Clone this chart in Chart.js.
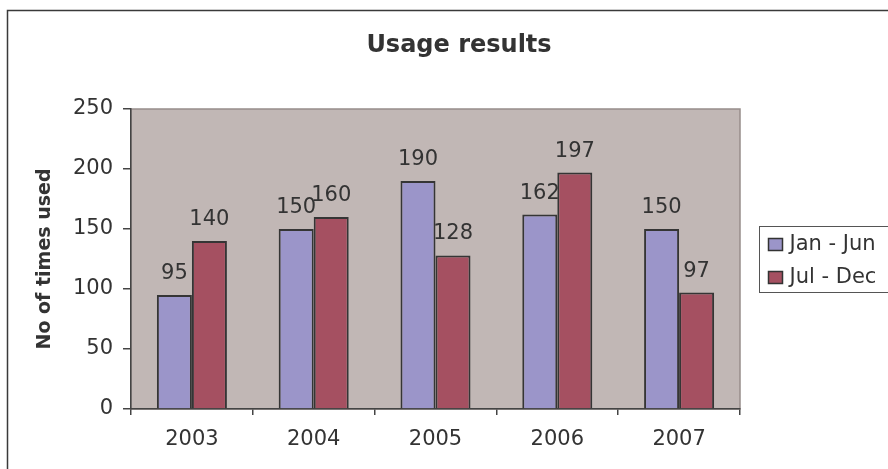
<!DOCTYPE html>
<html>
<head>
<meta charset="utf-8">
<title>Usage results</title>
<script src="https://cdn.jsdelivr.net/npm/chart.js@4"></script>
<style>
  html, body { margin: 0; padding: 0; background: #fff; overflow: hidden; }
  #wrap { width: 888px; height: 469px; }
</style>
</head>
<body>
<div id="wrap"><canvas id="usage" width="888" height="469"></canvas></div>
<script>
// Usage counts per half-year
const categories = ['2003', '2004', '2005', '2006', '2007'];
const seriesNames = ['Jan - Jun', 'Jul - Dec'];
const janJun = [95, 150, 190, 162, 150];
const julDec = [140, 160, 128, 197, 97];
const yMin = 0;
const yMax = 250;
const yStep = 50;

const FONT = "'DejaVu Sans', sans-serif";
const TEXT = '#333333';
const AXIS = '#444444';
const PLOT_BG = '#C1B7B5';
const COLORS = ['#9B95C9', '#A55061'];

// White page, outer frame (left and top edges), shaded plot area with its thin grey border
const framePlugin = {
  id: 'frame',
  beforeDraw(chart) {
    const { ctx, chartArea: a } = chart;
    ctx.save();
    ctx.fillStyle = '#ffffff';
    ctx.fillRect(0, 0, chart.width, chart.height);
    ctx.strokeStyle = '#3a3a3a';
    ctx.lineWidth = 1.5;
    ctx.beginPath();
    ctx.moveTo(7.5, chart.height + 5);
    ctx.lineTo(7.5, 10.5);
    ctx.lineTo(chart.width + 5, 10.5);
    ctx.stroke();
    ctx.fillStyle = PLOT_BG;
    ctx.fillRect(a.left, a.top, a.right - a.left, a.bottom - a.top);
    ctx.strokeStyle = '#978d8b';
    ctx.lineWidth = 1.5;
    ctx.strokeRect(a.left, a.top, a.right - a.left, a.bottom - a.top);
    ctx.restore();
  }
};

// Value printed above every bar
const valueLabels = {
  id: 'valueLabels',
  afterDatasetsDraw(chart) {
    const { ctx } = chart;
    ctx.save();
    ctx.font = '21px ' + FONT;
    ctx.fillStyle = TEXT;
    ctx.textAlign = 'center';
    ctx.textBaseline = 'alphabetic';
    chart.data.datasets.forEach((ds, i) => {
      const meta = chart.getDatasetMeta(i);
      meta.data.forEach((bar, j) => {
        ctx.fillText(String(ds.data[j]), bar.x, bar.y - 16);
      });
    });
    ctx.restore();
  }
};

// Boxed legend, laid out as a fixed-width box on the right of the plot
const boxLegend = {
  id: 'boxLegend',
  beforeInit(chart) {
    const box = {
      position: 'right',
      weight: 1000,
      fullSize: false,
      options: {},
      width: 0,
      height: 0,
      isHorizontal() { return false; },
      update(maxWidth, maxHeight) {
        this.width = 148;
        this.height = maxHeight;
      },
      draw() {
        const ctx = chart.ctx;
        const a = chart.chartArea;
        const left = this.left + 19.5;
        const top = Math.round((a.top + a.bottom) / 2 - 33) + 0.5;
        const rowGap = 33;
        ctx.save();
        ctx.strokeStyle = '#555555';
        ctx.lineWidth = 1;
        ctx.strokeRect(left, top, 160, 66);
        ctx.font = '21px ' + FONT;
        ctx.textAlign = 'left';
        ctx.textBaseline = 'alphabetic';
        chart.data.datasets.forEach((ds, i) => {
          const y = top + 12 + i * rowGap;
          ctx.fillStyle = ds.backgroundColor;
          ctx.fillRect(left + 9, y, 14, 12);
          ctx.strokeStyle = '#333333';
          ctx.lineWidth = 1.5;
          ctx.strokeRect(left + 9, y, 14, 12);
          ctx.fillStyle = TEXT;
          ctx.fillText(ds.label, left + 30, y + 11);
        });
        ctx.restore();
      }
    };
    Chart.layouts.addBox(chart, box);
  }
};

new Chart(document.getElementById('usage'), {
  type: 'bar',
  data: {
    labels: categories,
    datasets: [
      { label: seriesNames[0], data: janJun, backgroundColor: COLORS[0] },
      { label: seriesNames[1], data: julDec, backgroundColor: COLORS[1] }
    ]
  },
  options: {
    responsive: false,
    animation: false,
    devicePixelRatio: 1,
    layout: { padding: { left: 30, right: 0, top: 0, bottom: 0 } },
    datasets: {
      bar: {
        borderColor: '#353535',
        borderWidth: 2,
        barPercentage: 1,
        categoryPercentage: 0.575
      }
    },
    plugins: {
      legend: { display: false },
      tooltip: { enabled: false },
      title: {
        display: true,
        text: 'Usage results',
        color: TEXT,
        font: { family: FONT, size: 24, weight: 'bold', lineHeight: 1.2 },
        padding: { top: 31.5, bottom: 48.7 }
      }
    },
    scales: {
      x: {
        grid: {
          offset: true,
          drawOnChartArea: false,
          drawTicks: true,
          tickLength: 6,
          color: AXIS,
          lineWidth: 1.5
        },
        border: { display: true, color: AXIS, width: 1.5 },
        ticks: {
          color: TEXT,
          font: { family: FONT, size: 21 },
          padding: 12,
          maxRotation: 0
        },
        afterFit(scale) { scale.height = 60; }
      },
      y: {
        min: yMin,
        max: yMax,
        grid: {
          drawOnChartArea: false,
          drawTicks: true,
          tickLength: 8,
          color: AXIS,
          lineWidth: 1.5
        },
        border: { display: true, color: AXIS, width: 1.5 },
        ticks: {
          stepSize: yStep,
          color: TEXT,
          font: { family: FONT, size: 21 },
          padding: 10
        },
        title: {
          display: true,
          text: 'No of times used',
          color: TEXT,
          font: { family: FONT, size: 19, weight: 'bold', lineHeight: 1.2 },
          padding: { top: 4, bottom: 0 }
        },
        afterFit(scale) { scale.width = 101; }
      }
    }
  },
  plugins: [framePlugin, valueLabels, boxLegend]
});
</script>
</body>
</html>
